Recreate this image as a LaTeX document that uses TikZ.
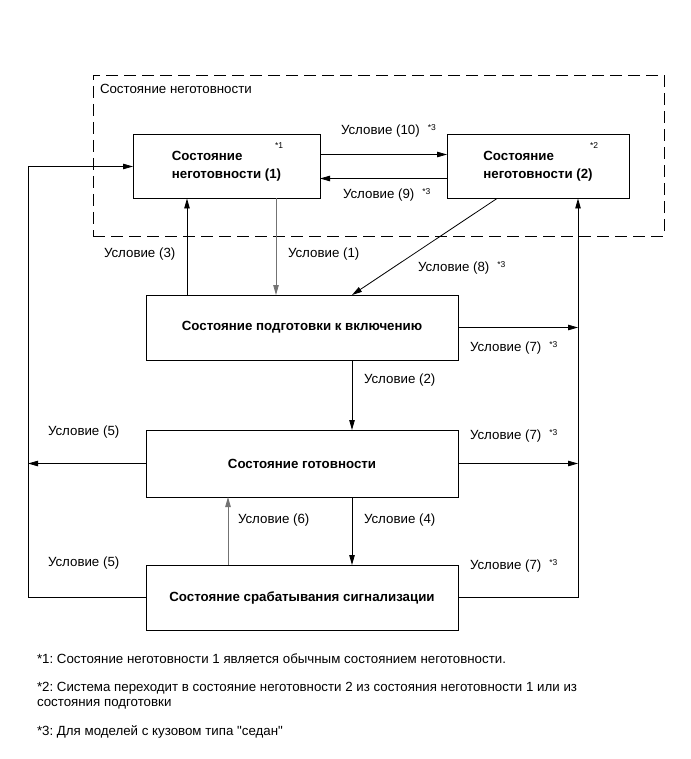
\documentclass[tikz,border=0pt]{standalone}
\usepackage{fontspec}
\setmainfont{Liberation Sans}[Ligatures=TeXOff]
\usetikzlibrary{arrows.meta,calc}
\frenchspacing
\newcommand{\sn}[1]{\raisebox{3.5pt}{\fontsize{8.5}{9}\selectfont *#1}}
\begin{document}
\begin{tikzpicture}[x=1pt,y=-1pt,
  every node/.style={inner sep=0pt,outer sep=0pt},
  box/.style={draw,line width=0.9pt,font=\fontsize{13.3}{18}\selectfont\bfseries,align=left},
  lbl/.style={anchor=west,font=\fontsize{13.3}{15.5}\selectfont},
  arr/.style={line width=0.8pt,-{Triangle[length=10pt,width=5.5pt]}},
  gr/.style={draw=black!55}]
\useasboundingbox (0,0) rectangle (690,759);
\node[draw,dashed,line width=0.9pt,dash pattern=on 12pt off 6pt,minimum width=571pt,minimum height=161pt] (grp) at (378.5,155.5) {};
\node[lbl] (grpl) at (100,89) {Состояние неготовности};
\node[box,minimum width=187pt,minimum height=64pt] (NG1) at (226.5,166.5) {Состояние\\неготовности (1)};
\node[box,minimum width=182pt,minimum height=64pt] (NG2) at (538,166.5) {Состояние\\неготовности (2)};
\node[box,minimum width=312pt,minimum height=65pt] (PREP) at (302,327.5) {Состояние подготовки к включению};
\node[box,minimum width=312pt,minimum height=67pt] (READY) at (302,463.5) {Состояние готовности};
\node[box,minimum width=312pt,minimum height=65pt] (ALARM) at (302,597.5) {Состояние срабатывания сигнализации};
\node[lbl] (m1) at (275,147) {\sn{1}};
\node[lbl] (m2) at (590,147) {\sn{2}};
\coordinate (rbx) at (578,0);
\coordinate (lbx) at (28,0);
% connectors
\draw[arr] ([yshift=12pt]NG1.east) -- ([yshift=12pt]NG2.west);
\draw[arr] ([yshift=-12pt]NG2.west) -- ([yshift=-12pt]NG1.east);
\draw[arr] ([xshift=-41pt]NG2.south) -- ([xshift=50pt]PREP.north);
\draw[arr] ([xshift=-115pt]PREP.north) -- ([xshift=-115pt]PREP.north |- NG1.south);
\draw[arr,gr] ([xshift=49.5pt]NG1.south) -- ([xshift=49.5pt]NG1.south |- PREP.north);
\draw[arr] (PREP.east) -- (PREP.east -| rbx);
\draw[arr] ([xshift=50pt]PREP.south) -- ([xshift=50pt]PREP.south |- READY.north);
\draw[arr] (READY.west) -- (READY.west -| lbx);
\draw[arr] (READY.east) -- (READY.east -| rbx);
\draw[arr] ([xshift=50pt]READY.south) -- ([xshift=50pt]READY.south |- ALARM.north);
\draw[arr,gr] ([xshift=-74pt]ALARM.north) -- ([xshift=-74pt]ALARM.north |- READY.south);
\draw[arr] (ALARM.east) -- (ALARM.east -| rbx) -- (rbx |- NG2.south);
\draw[arr] (ALARM.west) -| (NG1.west -| lbx) -- (NG1.west);
% labels
\node[lbl] (c10) at (341,131) {Условие (10)\hspace{8pt}\sn{3}};
\node[lbl] (c9) at (343,195) {Условие (9)\hspace{8pt}\sn{3}};
\node[lbl] (c3) at (104,254) {Условие (3)};
\node[lbl] (c1) at (288,254) {Условие (1)};
\node[lbl] (c8) at (418,268) {Условие (8)\hspace{8pt}\sn{3}};
\node[lbl] (c7a) at (470,348) {Условие (7)\hspace{8pt}\sn{3}};
\node[lbl] (c2) at (364,380) {Условие (2)};
\node[lbl] (c5a) at (48,432) {Условие (5)};
\node[lbl] (c7b) at (470,436) {Условие (7)\hspace{8pt}\sn{3}};
\node[lbl] (c6) at (238,520) {Условие (6)};
\node[lbl] (c4) at (364,520) {Условие (4)};
\node[lbl] (c5b) at (48,563) {Условие (5)};
\node[lbl] (c7c) at (470,566) {Условие (7)\hspace{8pt}\sn{3}};
% footnotes
\node[lbl] (f1) at (37,659) {*1: Состояние неготовности 1 является обычным состоянием неготовности.};
\node[lbl,align=left] (f2) at (37,695.5) {*2: Система переходит в состояние неготовности 2 из состояния неготовности 1 или из\\состояния подготовки};
\node[lbl] (f3) at (37,732) {*3: Для моделей с кузовом типа "седан"};
\end{tikzpicture}
\end{document}
